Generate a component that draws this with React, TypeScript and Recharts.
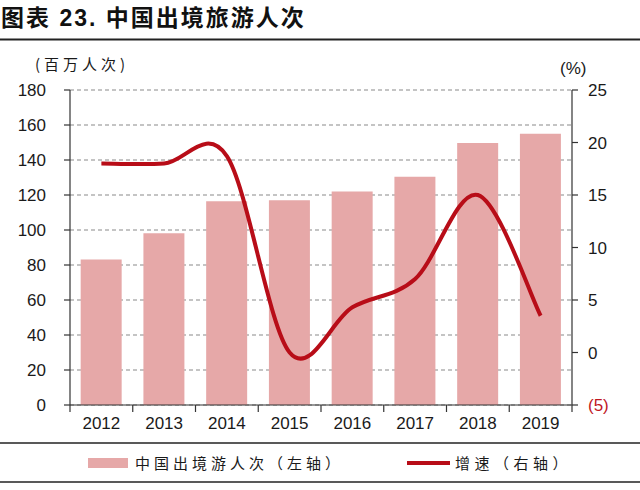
import React from 'react';
import { ComposedChart, Bar, Line, XAxis, YAxis, CartesianGrid } from 'recharts';

const years = ['2012', '2013', '2014', '2015', '2016', '2017', '2018', '2019'];
const travelers = [83.2, 98.2, 116.5, 117.0, 122.0, 130.5, 149.7, 155.0];
const growth = [18.0, 18.0, 18.7, 0.0, 4.3, 7.0, 15.0, 3.5];
const leftTicks = [0, 20, 40, 60, 80, 100, 120, 140, 160, 180];
const rightTicks = [-5, 0, 5, 10, 15, 20, 25];
const titleText = '图表 23. 中国出境旅游人次';
const leftUnit = '(百万人次)';
const rightUnit = '(%)';
const barName = '中国出境游人次（左轴）';
const lineName = '增速（右轴）';

const data = years.map((y, i) => ({ year: y, travelers: travelers[i], growth: growth[i] }));

const W = 640;
const H = 490;
const LEFT_W = 70;
const RIGHT_W = 68;
const BAND = (W - LEFT_W - RIGHT_W) / years.length;
const BAR_COLOR = '#E6A8A8';
const LINE_COLOR = '#B80D18';
const TEXT_COLOR = '#1a1a1a';
const NUM_FONT = '"Liberation Sans", Arial, sans-serif';
const CJK_FONT = '"Noto Sans CJK SC", "Noto Sans", sans-serif';

function excelSmooth(context: any) {
  let pts: number[][] = [];
  return {
    areaStart() {},
    areaEnd() {},
    lineStart() {
      pts = [];
    },
    point(x: number, y: number) {
      pts.push([+x, +y]);
    },
    lineEnd() {
      const n = pts.length;
      if (!n) return;
      context.moveTo(pts[0][0], pts[0][1]);
      for (let i = 0; i < n - 1; i++) {
        const p0 = pts[Math.max(i - 1, 0)];
        const p1 = pts[i];
        const p2 = pts[i + 1];
        const p3 = pts[Math.min(i + 2, n - 1)];
        context.bezierCurveTo(
          p1[0] + (p2[0] - p0[0]) / 6,
          p1[1] + (p2[1] - p0[1]) / 6,
          p2[0] - (p3[0] - p1[0]) / 6,
          p2[1] - (p3[1] - p1[1]) / 6,
          p2[0],
          p2[1]
        );
      }
    },
  };
}

const XTick = (props: any) => {
  const { x, y, payload, index } = props;
  const half = BAND / 2;
  return (
    <g>
      <line x1={x - half} x2={x - half} y1={y} y2={y + 7} stroke="#333" strokeWidth={1.2} />
      {index === years.length - 1 && (
        <line x1={x + half} x2={x + half} y1={y} y2={y + 7} stroke="#333" strokeWidth={1.2} />
      )}
      <text x={x} y={y + 24} textAnchor="middle" fontFamily={NUM_FONT} fontSize={17} fill={TEXT_COLOR}>
        {payload.value}
      </text>
    </g>
  );
};

const RightTick = (props: any) => {
  const { x, y, payload } = props;
  const v = payload.value;
  const label = v < 0 ? `(${Math.abs(v)})` : `${v}`;
  return (
    <text x={x} y={y} dy="0.36em" textAnchor="start" fontFamily={NUM_FONT} fontSize={17} fill={v < 0 ? '#C0171F' : TEXT_COLOR}>
      {label}
    </text>
  );
};

export default function App() {
  return (
    <div style={{ position: 'absolute', left: 0, top: 0, width: W, height: H, background: '#fff' }}>
      <ComposedChart
        width={W}
        height={H}
        data={data}
        margin={{ top: 90, right: 0, bottom: 55, left: 0 }}
        barCategoryGap="17%"
      >
        <CartesianGrid yAxisId="left" vertical={false} stroke="#8a8a8a" strokeDasharray="4 3" strokeWidth={1.2} />
        <XAxis
          dataKey="year"
          height={30}
          tickLine={false}
          tickSize={0}
          tickMargin={0}
          interval={0}
          axisLine={{ stroke: '#333', strokeWidth: 1.2 }}
          tick={<XTick />}
        />
        <YAxis
          yAxisId="left"
          width={LEFT_W}
          domain={[0, 180]}
          ticks={leftTicks}
          interval={0}
          tickSize={6}
          tickMargin={18}
          axisLine={{ stroke: '#333', strokeWidth: 1.2 }}
          tickLine={{ stroke: '#333', strokeWidth: 1.2 }}
          tick={{ fontFamily: NUM_FONT, fontSize: 17, fill: TEXT_COLOR }}
        />
        <YAxis
          yAxisId="right"
          orientation="right"
          width={RIGHT_W}
          domain={[-5, 25]}
          ticks={rightTicks}
          interval={0}
          tickSize={6}
          tickMargin={10}
          axisLine={{ stroke: '#333', strokeWidth: 1.2 }}
          tickLine={{ stroke: '#333', strokeWidth: 1.2 }}
          tick={<RightTick />}
        />
        <Bar yAxisId="left" dataKey="travelers" name={barName} fill={BAR_COLOR} isAnimationActive={false} />
        <Line
          yAxisId="right"
          dataKey="growth"
          name={lineName}
          type={excelSmooth as any}
          stroke={LINE_COLOR}
          strokeWidth={4}
          dot={false}
          activeDot={false}
          isAnimationActive={false}
        />
      </ComposedChart>
      <svg width={W} height={H} style={{ position: 'absolute', left: 0, top: 0, pointerEvents: 'none' }}>
        <text x={1} y={26} fontFamily={`"Liberation Sans", ${CJK_FONT}`} fontWeight="bold" fontSize={23} letterSpacing={2} fill="#111">
          {titleText}
        </text>
        <line x1={0} x2={W} y1={39.5} y2={39.5} stroke="#222" strokeWidth={2} />
        <text x={35} y={70} fontFamily={CJK_FONT} fontSize={15} letterSpacing={4} fill={TEXT_COLOR}>
          {leftUnit}
        </text>
        <text x={560} y={74} fontFamily={NUM_FONT} fontSize={17} fill={TEXT_COLOR}>
          {rightUnit}
        </text>
        <line x1={0} x2={W} y1={443} y2={443} stroke="#222" strokeWidth={1.5} />
        <line x1={0} x2={W} y1={482} y2={482} stroke="#222" strokeWidth={1.5} />
        <rect x={88} y={458} width={40} height={10} fill={BAR_COLOR} />
        <text x={135} y={469} fontFamily={CJK_FONT} fontSize={15} letterSpacing={4} fill={TEXT_COLOR}>
          {barName}
        </text>
        <line x1={407} x2={450} y1={463} y2={463} stroke={LINE_COLOR} strokeWidth={4} />
        <text x={455} y={469} fontFamily={CJK_FONT} fontSize={15} letterSpacing={4.5} fill={TEXT_COLOR}>
          {lineName}
        </text>
      </svg>
    </div>
  );
}
